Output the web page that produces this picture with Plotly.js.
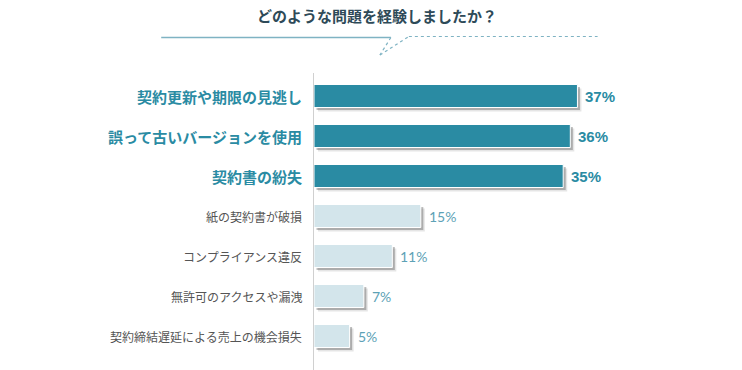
<!DOCTYPE html>
<html>
<head>
<meta charset="utf-8">
<script src="https://cdn.plot.ly/plotly-3.0.1.min.js"></script>
<style>html,body{margin:0;padding:0;background:#fff;}#chart{width:742px;height:370px;}</style>
</head>
<body>
<div id="chart"></div>
<script>
// ---- data ----
const titleText = 'どのような問題を経験しましたか？';
const categories = [
  '契約更新や期限の見逃し',
  '誤って古いバージョンを使用',
  '契約書の紛失',
  '紙の契約書が破損',
  'コンプライアンス違反',
  '無許可のアクセスや漏洩',
  '契約締結遅延による売上の機会損失'
];
const values = [37, 36, 35, 15, 11, 7, 5];
const valueLabels = ['37%', '36%', '35%', '15%', '11%', '7%', '5%'];
const highlightCount = 3;

// ---- layout constants ----
const L = 314, T = 76, PW = 356.5, PH = 280, WIDTH = 742, HEIGHT = 370;
const R = WIDTH - L - PW, B = HEIGHT - T - PH;
const pxX = px => (px - L) / PW;
const pxY = py => (T + PH - py) / PH;

const dark = '#2a8ba3', light = '#d3e5eb';
const isHi = i => i < highlightCount;
const barW = 0.575;
const pxPerUnit = PW / 50;

function shadow(dx, dy, alpha) {
  return {
    type: 'bar', orientation: 'h', y: categories,
    x: values, base: values.map(() => dx / pxPerUnit),
    width: barW, offset: -barW / 2 + dy / 40,
    marker: {color: 'rgba(40,40,40,' + alpha + ')'},
    hoverinfo: 'skip', showlegend: false
  };
}

const traces = [
  shadow(4, 4, 0.12),
  shadow(2.5, 2.5, 0.3),
  {
    type: 'bar', orientation: 'h', y: categories, x: values,
    width: barW,
    marker: {color: values.map((v, i) => isHi(i) ? dark : light), line: {color: '#ffffff', width: 1}},
    showlegend: false
  }
];

const annotations = [];
categories.forEach((c, i) => {
  annotations.push({
    xref: 'paper', yref: 'y', x: 0, y: c, xanchor: 'right', yanchor: 'middle',
    xshift: -10, showarrow: false, text: isHi(i) ? '<b>' + c + '</b>' : c,
    font: isHi(i) ? {family: 'Noto Sans CJK JP', size: 15, color: dark}
                  : {family: 'Noto Sans CJK JP', size: 12, color: '#555555'}
  });
  annotations.push({
    xref: 'x', yref: 'y', x: values[i], y: c, xanchor: 'left', yanchor: 'middle',
    xshift: 6, showarrow: false, text: isHi(i) ? '<b>' + valueLabels[i] + '</b>' : valueLabels[i],
    font: isHi(i) ? {family: 'Liberation Sans, Arial', size: 15, color: dark}
                  : {family: 'Lato', size: 14, color: '#5da2b6'}
  });
});

const lineCol = '#7fb3c3';
const shapes = [
  {type: 'line', xref: 'paper', yref: 'paper', x0: pxX(161), x1: pxX(391), y0: pxY(37.5), y1: pxY(37.5), line: {color: lineCol, width: 1.3}},
  {type: 'line', xref: 'paper', yref: 'paper', x0: pxX(391), x1: pxX(380), y0: pxY(37.5), y1: pxY(55), line: {color: lineCol, width: 1.2, dash: 'dot'}},
  {type: 'line', xref: 'paper', yref: 'paper', x0: pxX(380), x1: pxX(409), y0: pxY(55), y1: pxY(36.5), line: {color: lineCol, width: 1.2, dash: 'dot'}},
  {type: 'line', xref: 'paper', yref: 'paper', x0: pxX(409), x1: pxX(598), y0: pxY(36.5), y1: pxY(36.5), line: {color: lineCol, width: 1.2, dash: 'dot'}},
  {type: 'line', xref: 'paper', yref: 'paper', x0: pxX(313.5), x1: pxX(313.5), y0: pxY(73), y1: pxY(370), line: {color: '#d0d0d0', width: 1}}
];

const layout = {
  width: WIDTH, height: HEIGHT,
  margin: {l: L, r: R, t: T, b: B, pad: 0},
  paper_bgcolor: '#ffffff', plot_bgcolor: '#ffffff',
  barmode: 'overlay',
  title: {
    text: '<b>' + titleText + '</b>', x: 377 / WIDTH, xanchor: 'center', y: 1 - 17 / HEIGHT, yanchor: 'middle', yref: 'container',
    font: {family: 'Noto Sans CJK JP', size: 15, color: '#2e4a58'}
  },
  xaxis: {range: [0, 50], visible: false, fixedrange: true},
  yaxis: {type: 'category', categoryorder: 'array', categoryarray: categories, autorange: 'reversed',
          range: [6.5, -0.5], showticklabels: false, showgrid: false, zeroline: false, showline: false, ticks: ''},
  annotations: annotations,
  shapes: shapes,
  showlegend: false
};

Plotly.newPlot('chart', traces, layout, {displayModeBar: false, staticPlot: true});
</script>
</body>
</html>
